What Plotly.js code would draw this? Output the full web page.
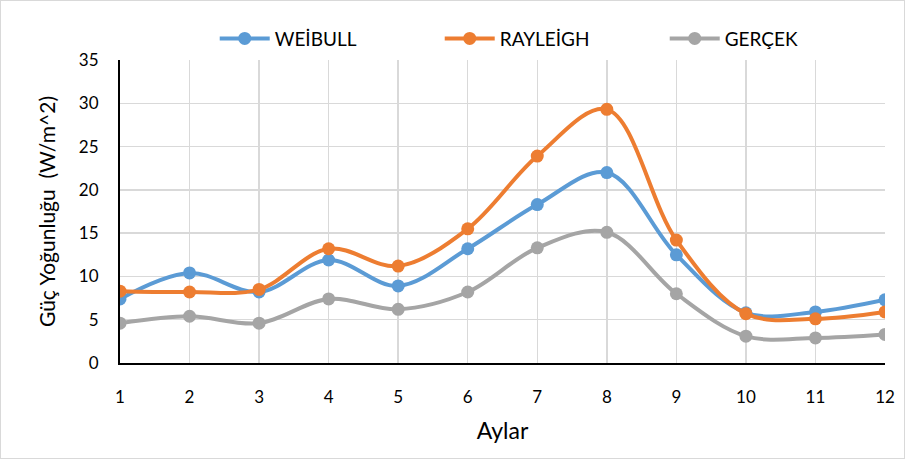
<!DOCTYPE html>
<html><head><meta charset="utf-8">
<script src="https://cdn.plot.ly/plotly-3.0.1.min.js"></script>
<style>html,body{margin:0;padding:0;background:#fff;}#chart{width:903px;height:457px;border:1px solid #d9d9d9;}</style>
</head><body><div id="chart"></div>
<script>
const months = [1,2,3,4,5,6,7,8,9,10,11,12];
const weibull = [7.4,10.4,8.2,11.9,8.9,13.2,18.3,22.0,12.5,5.8,5.9,7.3];
const rayleigh = [8.3,8.2,8.5,13.2,11.2,15.5,23.9,29.3,14.2,5.7,5.1,5.9];
const gercek = [4.6,5.4,4.6,7.4,6.2,8.2,13.3,15.1,8.0,3.1,2.9,3.3];
const names = ['WEİBULL','RAYLEİGH','GERÇEK'];
const colors = ['#5b9bd5','#ed7d31','#a5a5a5'];
const series = [weibull, rayleigh, gercek];
const FONT = 'Lato, "Open Sans", sans-serif';
const traces = series.map((s,i)=>({
  x: months, y: s, name: names[i], type:'scatter', mode:'lines+markers',
  line:{color:colors[i], width:4, shape:'spline', smoothing:1},
  marker:{color:colors[i], size:13}
}));
const layout = {
  width:903, height:457,
  margin:{l:119, r:19, t:59, b:95, autoexpand:false},
  paper_bgcolor:'#fff', plot_bgcolor:'#fff',
  font:{family:FONT, size:17, color:'#000'},
  showlegend:true,
  legend:{orientation:'h', x:0.565, xanchor:'center', y:1.008, yanchor:'bottom',
          entrywidth:160, font:{size:19, family:FONT}, itemwidth:50},
  xaxis:{range:[1,12], tickvals:months, ticktext:months.map(String), showgrid:true, gridcolor:'#d9d9d9', gridwidth:1.5,
         showline:true, linecolor:'#000', linewidth:2, ticks:'outside', ticklen:18, tickcolor:'rgba(0,0,0,0)', zeroline:false,
         title:{text:'Aylar', font:{size:23, family:FONT}, standoff:16}, tickfont:{size:17}},
  yaxis:{range:[0,35], dtick:5, showgrid:true, gridcolor:'#d9d9d9', gridwidth:1.5,
         showline:true, linecolor:'#000', linewidth:2, ticks:'outside', ticklen:16, tickcolor:'rgba(0,0,0,0)', zeroline:false,
         title:{text:'Güç Yoğunluğu  (W/m^2)', font:{size:21, family:FONT}, standoff:18}, tickfont:{size:17}}
};
Plotly.newPlot('chart', traces, layout, {displayModeBar:false, staticPlot:true});
</script></body></html>
